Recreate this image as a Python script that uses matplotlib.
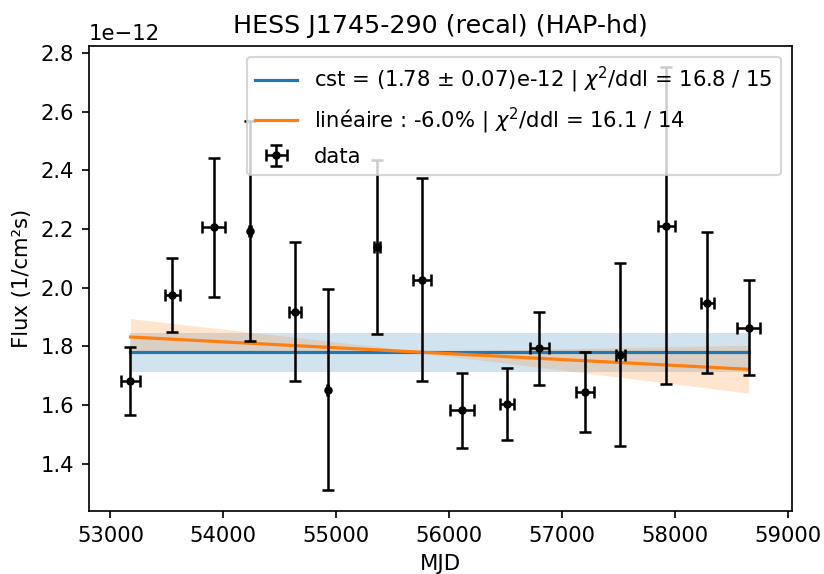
import matplotlib
matplotlib.use("Agg")
import matplotlib.pyplot as plt
import numpy as np

# light curve points (MJD, flux in units of 1e-12)
mjd = [53177, 53549, 53914, 54235, 54634, 54923, 55363, 55758,
       56109, 56513, 56799, 57204, 57513, 57923, 58286, 58651]
mjd_err = [84, 65, 99, 8, 49, 5, 27, 78,
           106, 63, 81, 78, 40, 77, 60, 100]
flux = [1.681, 1.976, 2.206, 2.192, 1.919, 1.653, 2.138, 2.028,
        1.583, 1.605, 1.794, 1.645, 1.772, 2.212, 1.949, 1.864]
flux_err = [0.116, 0.127, 0.237, 0.375, 0.237, 0.342, 0.296, 0.346,
            0.128, 0.123, 0.125, 0.137, 0.311, 0.540, 0.240, 0.162]

# constant fit
cst_x = [53177, 58651]
cst_val = 1.78
cst_err = 0.066

# linear fit and its error band (start, pivot, end)
lin_x = [53177, 58651]
lin_val = [1.832, 1.722]
band_x = [53177, 55730, 58651]
band_low = [1.776, 1.779, 1.641]
band_high = [1.895, 1.783, 1.804]

scale = 1e-12
dpi = 152

fig = plt.figure(figsize=(824/dpi, 574/dpi), dpi=dpi)
ax = fig.add_axes([0.108, 0.1098, 0.853, 0.810])

ax.plot(cst_x, [cst_val*scale]*2, color="C0",
        label=r"cst = (1.78 $\pm$ 0.07)e-12 | $\chi^2$/ddl = 16.8 / 15")
ax.fill_between(cst_x, [(cst_val-cst_err)*scale]*2, [(cst_val+cst_err)*scale]*2,
                color="C0", alpha=0.2, lw=0)
ax.plot(lin_x, np.array(lin_val)*scale, color="C1",
        label=r"linéaire : -6.0% | $\chi^2$/ddl = 16.1 / 14")
ax.fill_between(band_x, np.array(band_low)*scale, np.array(band_high)*scale,
                color="C1", alpha=0.2, lw=0)

ax.errorbar(mjd, np.array(flux)*scale, xerr=mjd_err, yerr=np.array(flux_err)*scale,
            fmt="k.", capsize=3, elinewidth=1.2, capthick=1.2, label="data")

ax.set_xlabel("MJD")
ax.set_ylabel("Flux (1/cm²s)")
ax.set_title("HESS J1745-290 (recal) (HAP-hd)")
ax.legend(loc="upper right")

fig.savefig("out.png", dpi=dpi)
